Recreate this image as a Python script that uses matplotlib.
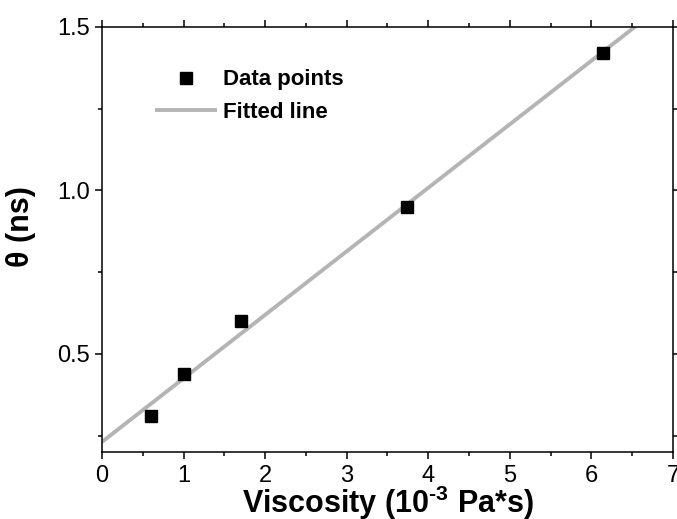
import numpy as np
import matplotlib
matplotlib.use("Agg")
import matplotlib.pyplot as plt
from matplotlib.ticker import MultipleLocator, FormatStrFormatter

plt.rcParams["font.family"] = ["Liberation Sans", "DejaVu Sans"]
plt.rcParams["mathtext.fontset"] = "custom"
plt.rcParams["mathtext.rm"] = "Liberation Sans"
plt.rcParams["mathtext.bf"] = "Liberation Sans:bold"

# viscosity (1e-3 Pa*s) and rotational correlation time theta (ns)
viscosity = [0.60, 1.01, 1.71, 3.74, 6.14]
theta = [0.31, 0.44, 0.60, 0.95, 1.42]

slope, intercept = np.polyfit(viscosity, theta, 1)
xfit = np.array([0.0, 7.0])

fig = plt.figure(figsize=(6.77, 5.19), dpi=100)
ax = fig.add_axes([0.1507, 0.129, 0.8433, 0.819])

ax.plot(viscosity, theta, ls="none", marker="s", ms=8.5, color="black",
        label="Data points", zorder=3)
ax.plot(xfit, slope * xfit + intercept, color="#b4b4b4", lw=2.8,
        label="Fitted line", zorder=2)

ax.set_xlim(0, 7)
ax.set_ylim(0.2, 1.5)
ax.xaxis.set_major_locator(MultipleLocator(1))
ax.xaxis.set_minor_locator(MultipleLocator(0.5))
ax.yaxis.set_major_locator(MultipleLocator(0.5))
ax.yaxis.set_minor_locator(MultipleLocator(0.25))
ax.yaxis.set_major_formatter(FormatStrFormatter("%.1f"))

ax.tick_params(which="both", direction="out", top=True, right=True,
               labelsize=17, width=1.1, pad=4)
ax.tick_params(which="major", length=5)
ax.tick_params(which="minor", length=3)
for s in ax.spines.values():
    s.set_linewidth(1.1)

ax.set_xlabel("Viscosity (10$^{\\mathbf{\u20103}}$ Pa*s)", fontsize=22,
              fontweight="bold", labelpad=-2)
ax.set_ylabel("θ (ns)", fontsize=22, fontweight="bold")
ax.yaxis.set_label_coords(-0.115, 0.53)

leg = ax.legend(loc="upper left", bbox_to_anchor=(0.097, 0.9), frameon=False,
                prop={"weight": "bold", "size": 16},
                handlelength=2.6, handletextpad=0.35, labelspacing=0.5,
                borderpad=0, borderaxespad=0)

fig.savefig("out.png", dpi=100)
